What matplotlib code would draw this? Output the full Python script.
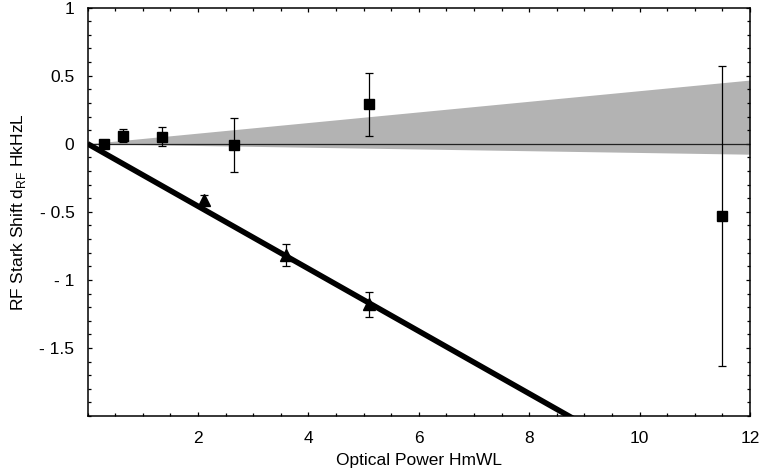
import matplotlib
matplotlib.use("Agg")
import matplotlib.pyplot as plt
import numpy as np

plt.rcParams['font.family'] = ['Liberation Sans', 'DejaVu Sans']
plt.rcParams['mathtext.fontset'] = 'custom'
plt.rcParams['mathtext.rm'] = 'Liberation Sans'

# square points (RF-only measurements)
sq_x = [0.30, 0.64, 1.35, 2.65, 5.10, 11.49]
sq_y = [0.00, 0.06, 0.05, -0.01, 0.29, -0.53]
sq_err = [0.00, 0.05, 0.07, 0.20, 0.23, 1.10]

# triangle points
tri_x = [2.10, 3.60, 5.10]
tri_y = [-0.41, -0.82, -1.18]
tri_err = [0.03, 0.08, 0.09]

# fitted line through origin and shaded confidence band
fit_slope = -0.2294
band_x = [0.0, 12.0]
band_upper_slope = 0.039
band_lower_slope = -0.0064

fig = plt.figure(figsize=(7.61, 4.76), dpi=100)
ax = fig.add_axes([0.1151, 0.126, 0.8704, 0.858])

bx = np.array(band_x)
ax.fill_between(bx, band_upper_slope * bx, band_lower_slope * bx,
                color='#b3b3b3', linewidth=0, zorder=1)
ax.axhline(0, color='#222222', linewidth=0.9, zorder=2)
ax.plot(bx, fit_slope * bx, color='black', linewidth=4, zorder=3,
        solid_capstyle='butt')

ax.errorbar(sq_x, sq_y, yerr=sq_err, fmt='s', color='black', markersize=7,
            elinewidth=0.9, capsize=3, capthick=0.9, zorder=4)
ax.errorbar(tri_x, tri_y, yerr=tri_err, fmt='^', color='black', markersize=8,
            elinewidth=0.9, capsize=3, capthick=0.9, zorder=4)

ax.set_xlim(0, 12)
ax.set_ylim(-2, 1)

ax.set_xticks([2, 4, 6, 8, 10, 12])
ax.set_xticks(np.arange(0, 12.01, 0.5), minor=True)
ax.set_yticks([1, 0.5, 0, -0.5, -1, -1.5])
ax.set_yticklabels(['1', '0.5', '0', '- 0.5', '- 1', '- 1.5'])
ax.set_yticks(np.arange(-2, 1.01, 0.1), minor=True)

ax.tick_params(which='both', direction='in', top=True, right=True,
               labelsize=12.5, width=0.9)
ax.tick_params(which='major', length=3.2)
ax.tick_params(which='minor', length=2)
ax.tick_params(axis='x', which='major', pad=11)
ax.tick_params(axis='y', which='major', pad=9.5)
for s in ax.spines.values():
    s.set_linewidth(1.1)

ax.set_xlabel('Optical Power HmWL', fontsize=12.5, labelpad=5)
ax.set_ylabel(r'RF Stark Shift d$_{\mathregular{RF}}$ HkHzL', fontsize=12.5,
              labelpad=8)

fig.savefig('out.png', dpi=100)
